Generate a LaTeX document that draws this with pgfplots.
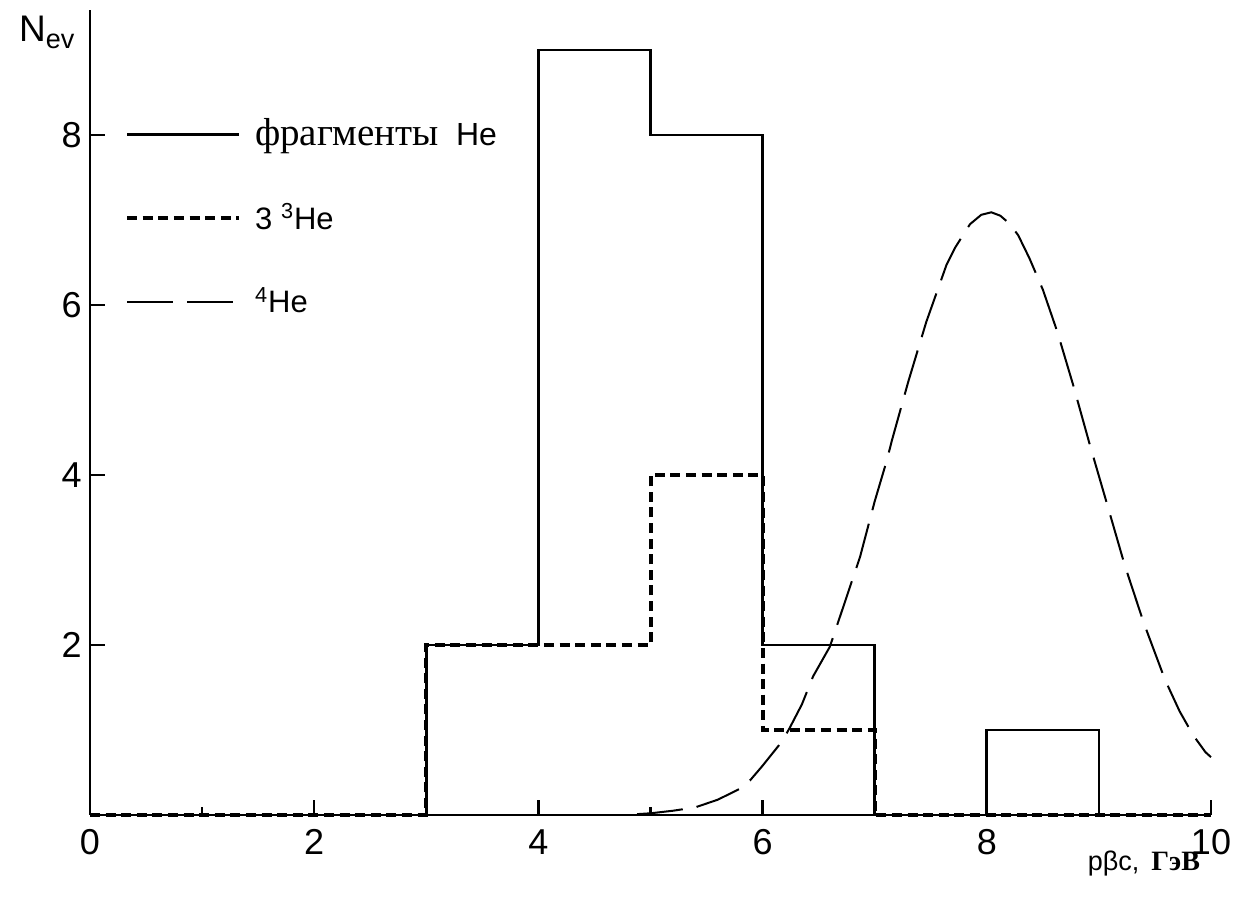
\documentclass[border=0pt]{standalone}
\usepackage{fontspec}
\setmainfont{Liberation Sans}
\newfontfamily\serif{Liberation Serif}
\usepackage{pgfplots}
\pgfplotsset{compat=1.18}

\begin{document}
\begin{tikzpicture}
\begin{axis}[
  scale only axis, width=560.5pt, height=402.5pt,
  xmin=0, xmax=10, ymin=0, ymax=9.47,
  axis x line=bottom, axis y line=left,
  axis line style={-, line width=1.4pt},
  xtick={0,2,...,10}, minor xtick={1,3,...,9},
  ytick={2,4,6,8},
  tick align=inside,
  major tick length=7.5pt, minor tick length=4pt,
  every tick/.style={line width=1.2pt, black},
  /pgf/number format/assume math mode=true,
  ticklabel style={font=\fontsize{18}{21}\selectfont, inner sep=0pt},
  xticklabel style={anchor=north, yshift=-7pt},
  yticklabel style={anchor=east, xshift=-4pt},
  clip=false,
  every axis x label/.style={at={(rel axis cs:1,0)}, anchor=base east, xshift=-2pt, yshift=-28pt, font=\fontsize{13.5}{16}\selectfont},
  xlabel={pβc,\hspace{6pt}{\serif\bfseries\fontsize{14}{16}\selectfont ГэВ}},
  every axis y label/.style={at={(rel axis cs:0,1)}, anchor=base west, xshift=-39pt, yshift=-16pt, font=\fontsize{18.5}{21}\selectfont},
  ylabel={N\raisebox{-3.5pt}{\fontsize{13.5}{15}\selectfont ev}},
  legend style={draw=none, fill=none, at={(axis cs:0.31,7.02)}, anchor=west,
    inner sep=0pt, row sep=24.75pt, column sep=7pt,
    nodes={inner sep=0pt, text height=14pt, text depth=3pt},
    cells={anchor=west}, font=\fontsize{15.5}{18}\selectfont},
  legend image code/.code={\draw[#1] (0pt,0pt) -- (56pt,0pt);},
]
% fragments He (solid histogram)
\addplot[const plot, line width=1.4pt, black] coordinates {
  (0,0) (3,2) (4,9) (5,8) (6,2) (7,0) (8,1) (9,0) (10,0)
};
\addlegendentry{{\serif\fontsize{19.5}{22}\selectfont фрагменты}\ \ {\fontsize{16}{18}\selectfont He}}
% 3 3He (dotted histogram)
\addplot[const plot, line width=2pt, black, dash pattern=on 5pt off 2.8pt] coordinates {
  (0,0) (3,2) (4,2) (5,4) (6,1) (7,0) (10,0)
};
\addlegendentry{3 \textsuperscript{3}He}
% 4He (long dashed curve)
\addplot[line width=1pt, black, dash pattern=on 23pt off 7pt] coordinates {
  (4.88,0.01) (5.0,0.02) (5.2,0.05) (5.40,0.09) (5.6,0.18) (5.80,0.31) (5.89,0.41)
  (6.0,0.58) (6.17,0.86) (6.24,1.02) (6.35,1.30) (6.45,1.63) (6.60,1.98) (6.72,2.45)
  (6.87,3.04) (7.00,3.69) (7.11,4.18) (7.15,4.39) (7.30,5.10) (7.46,5.80)
  (7.64,6.47) (7.72,6.68) (7.85,6.95) (7.95,7.06) (8.04,7.09) (8.12,7.05)
  (8.20,6.96) (8.28,6.82) (8.38,6.55) (8.50,6.18) (8.63,5.68) (8.77,5.06)
  (8.92,4.35) (9.07,3.67) (9.23,2.94) (9.40,2.26) (9.59,1.59) (9.72,1.22)
  (9.84,0.94) (9.95,0.74) (10.0,0.68)
};
\addlegendentry{\textsuperscript{4}He}
\end{axis}
\pgfresetboundingbox
\path (-45pt,-41.5pt) rectangle (573pt,407.5pt);
\end{tikzpicture}
\end{document}
